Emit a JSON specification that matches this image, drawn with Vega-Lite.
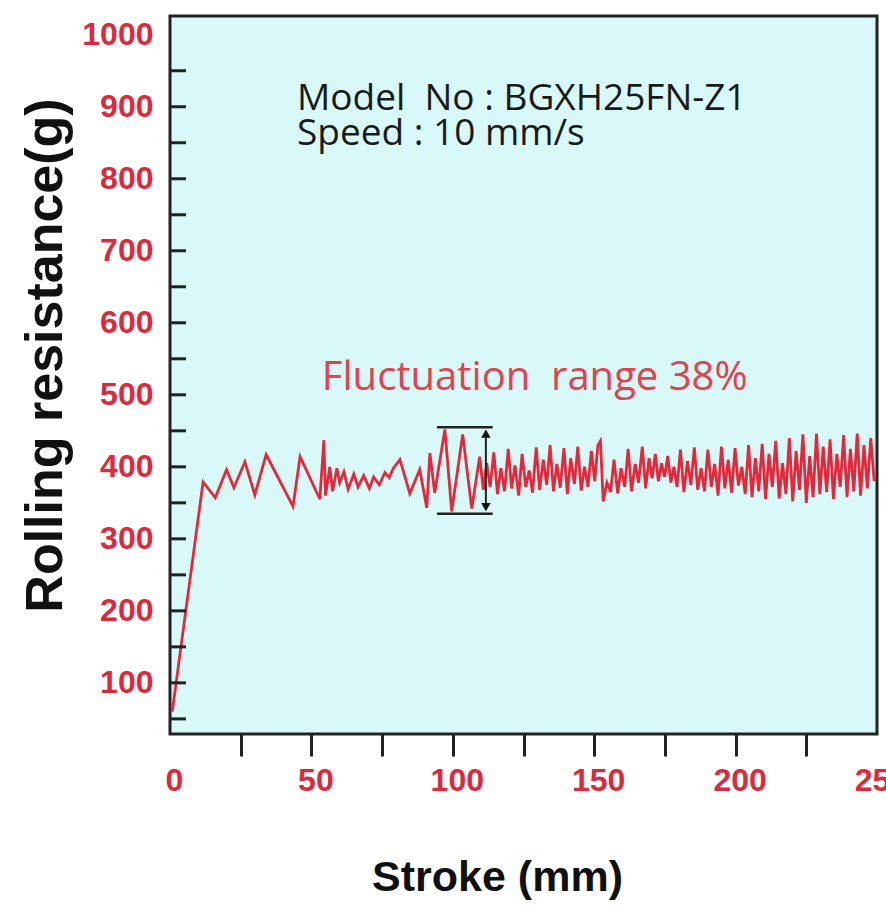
{
  "$schema": "https://vega.github.io/schema/vega-lite/v6.json",
  "width": 707,
  "height": 718,
  "autosize": "none",
  "padding": {"left": 170, "top": 16, "right": 9, "bottom": 172},
  "background": "white",
  "config": {
    "view": {"fill": "#d9f9f9", "stroke": "#222", "strokeWidth": 3}
  },
  "datasets": {
    "curve": [
      {"x": 0.8, "y": 60}, {"x": 11.7, "y": 379}, {"x": 16, "y": 357}, {"x": 20, "y": 396},
      {"x": 22.6, "y": 371}, {"x": 26.5, "y": 407}, {"x": 30, "y": 361}, {"x": 34, "y": 417},
      {"x": 43.5, "y": 345}, {"x": 46, "y": 414}, {"x": 53, "y": 355}, {"x": 54.4, "y": 437},
      {"x": 55, "y": 360}, {"x": 56.5, "y": 400}, {"x": 57.5, "y": 366}, {"x": 59, "y": 398},
      {"x": 60, "y": 378}, {"x": 61.5, "y": 393}, {"x": 63, "y": 369}, {"x": 65, "y": 390},
      {"x": 66.5, "y": 372}, {"x": 68.5, "y": 388}, {"x": 70.5, "y": 370}, {"x": 72, "y": 386},
      {"x": 74, "y": 375}, {"x": 76, "y": 392}, {"x": 77.5, "y": 385}, {"x": 79, "y": 398},
      {"x": 81.3, "y": 410}, {"x": 84.8, "y": 363}, {"x": 88.3, "y": 396}, {"x": 90.8, "y": 343},
      {"x": 91.9, "y": 419}, {"x": 93.6, "y": 364}, {"x": 97.2, "y": 452}, {"x": 99.6, "y": 338},
      {"x": 103.5, "y": 445}, {"x": 106.7, "y": 342}, {"x": 109.5, "y": 414},
      {"x": 110.8, "y": 368}, {"x": 112, "y": 405}, {"x": 113.2, "y": 372}, {"x": 114.5, "y": 420},
      {"x": 115.8, "y": 362}, {"x": 117, "y": 398}, {"x": 118.3, "y": 366}, {"x": 119.6, "y": 425},
      {"x": 120.8, "y": 370}, {"x": 122, "y": 402}, {"x": 123.3, "y": 360}, {"x": 124.5, "y": 418},
      {"x": 125.8, "y": 372}, {"x": 127, "y": 395}, {"x": 128.2, "y": 364}, {"x": 129.5, "y": 427},
      {"x": 130.7, "y": 368}, {"x": 132, "y": 410}, {"x": 133.2, "y": 375}, {"x": 134.4, "y": 430},
      {"x": 135.6, "y": 366}, {"x": 136.8, "y": 404}, {"x": 138, "y": 371}, {"x": 139.3, "y": 426},
      {"x": 140.5, "y": 362}, {"x": 141.7, "y": 412}, {"x": 143, "y": 376}, {"x": 144.2, "y": 428},
      {"x": 145.4, "y": 367}, {"x": 146.6, "y": 400}, {"x": 147.8, "y": 372}, {"x": 149, "y": 422},
      {"x": 150.2, "y": 380}, {"x": 151.3, "y": 430}, {"x": 152.2, "y": 436}, {"x": 153.2, "y": 352},
      {"x": 154.5, "y": 378}, {"x": 155.8, "y": 365}, {"x": 157, "y": 410}, {"x": 158.3, "y": 363},
      {"x": 159.5, "y": 398}, {"x": 160.8, "y": 372}, {"x": 162, "y": 425}, {"x": 163.2, "y": 366},
      {"x": 164.5, "y": 404}, {"x": 165.7, "y": 378}, {"x": 167, "y": 428}, {"x": 168.2, "y": 370},
      {"x": 169.4, "y": 412}, {"x": 170.5, "y": 384}, {"x": 171.6, "y": 418}, {"x": 172.7, "y": 380},
      {"x": 173.8, "y": 405}, {"x": 174.9, "y": 386}, {"x": 176, "y": 415}, {"x": 177.1, "y": 378},
      {"x": 178.2, "y": 400}, {"x": 179.3, "y": 372}, {"x": 180.5, "y": 424}, {"x": 181.7, "y": 365},
      {"x": 183, "y": 408}, {"x": 184.2, "y": 375}, {"x": 185.4, "y": 427}, {"x": 186.6, "y": 368},
      {"x": 187.8, "y": 398}, {"x": 189, "y": 366}, {"x": 190.2, "y": 424}, {"x": 191.4, "y": 372},
      {"x": 192.6, "y": 404}, {"x": 193.8, "y": 360}, {"x": 195, "y": 428}, {"x": 196.2, "y": 370},
      {"x": 197.4, "y": 410}, {"x": 198.6, "y": 364}, {"x": 199.8, "y": 426}, {"x": 201, "y": 374},
      {"x": 202.2, "y": 400}, {"x": 203.4, "y": 362}, {"x": 204.6, "y": 430}, {"x": 205.8, "y": 358},
      {"x": 207, "y": 412}, {"x": 208.2, "y": 366}, {"x": 209.4, "y": 432}, {"x": 210.6, "y": 355},
      {"x": 211.8, "y": 418}, {"x": 213, "y": 372}, {"x": 214.2, "y": 436}, {"x": 215.4, "y": 356},
      {"x": 216.6, "y": 405}, {"x": 217.8, "y": 362}, {"x": 219, "y": 440}, {"x": 220.2, "y": 352},
      {"x": 221.4, "y": 422}, {"x": 222.6, "y": 368}, {"x": 223.8, "y": 445}, {"x": 225, "y": 350},
      {"x": 226.2, "y": 415}, {"x": 227.4, "y": 358}, {"x": 228.6, "y": 446}, {"x": 229.8, "y": 362},
      {"x": 231, "y": 428}, {"x": 232.2, "y": 365}, {"x": 233.4, "y": 438}, {"x": 234.6, "y": 355},
      {"x": 235.8, "y": 418}, {"x": 237, "y": 372}, {"x": 238.2, "y": 444}, {"x": 239.4, "y": 358},
      {"x": 240.6, "y": 425}, {"x": 241.8, "y": 366}, {"x": 243, "y": 446}, {"x": 244.2, "y": 360},
      {"x": 245.4, "y": 430}, {"x": 246.6, "y": 370}, {"x": 247.8, "y": 440}, {"x": 249, "y": 380}
    ],
    "yticks": [
      {"y": 50}, {"y": 100}, {"y": 150}, {"y": 200}, {"y": 250}, {"y": 300}, {"y": 350},
      {"y": 400}, {"y": 450}, {"y": 500}, {"y": 550}, {"y": 600}, {"y": 650}, {"y": 700},
      {"y": 750}, {"y": 800}, {"y": 850}, {"y": 900}, {"y": 950}
    ],
    "hbars": [
      {"x": 94.4, "x2": 114.1, "y": 455},
      {"x": 94.4, "x2": 114.1, "y": 335}
    ],
    "vbar": [{"x": 111.7, "y": 340, "y2": 450}],
    "heads": [
      {"x": 111.7, "y": 446, "shape": "triangle-up"},
      {"x": 111.7, "y": 344, "shape": "triangle-down"}
    ],
    "notes": [
      {"x": 44.9, "y": 895, "label": "Model\u00a0\u00a0No : BGXH25FN-Z1", "kind": "info"},
      {"x": 44.9, "y": 847, "label": "Speed : 10 mm/s", "kind": "info"},
      {"x": 53.7, "y": 506, "label": "Fluctuation\u00a0 range 38%", "kind": "fluct"}
    ]
  },
  "layer": [
    {
      "data": {"name": "curve"},
      "mark": {"type": "line", "color": "#e2283a", "strokeWidth": 2.8, "clip": true},
      "encoding": {
        "x": {
          "field": "x", "type": "quantitative",
          "scale": {"domain": [0, 250], "nice": false, "zero": false},
          "axis": {
            "values": [0, 25, 50, 75, 100, 125, 150, 175, 200, 225, 250],
            "labelExpr": "datum.value % 50 == 0 ? datum.label : ''",
            "tickColor": {"condition": {"test": "datum.value == 0 || datum.value == 250", "value": "rgba(0,0,0,0)"}, "value": "#222"},
            "tickSize": 22, "tickWidth": 3,
            "domain": false, "grid": false,
            "labelFlush": false, "labelOverlap": false,
            "labelPadding": 9, "labelOffset": 4,
            "labelFont": "Liberation Sans", "labelFontWeight": "bold", "labelFontSize": 32, "labelColor": "#dc2a3c",
            "title": "Stroke (mm)",
            "titleFont": "Liberation Sans", "titleFontWeight": "bold", "titleFontSize": 43, "titleColor": "#111",
            "titleX": 327, "titleY": 143, "titleBaseline": "middle"
          }
        },
        "y": {
          "field": "y", "type": "quantitative",
          "scale": {"domain": [29, 1026], "nice": false, "zero": false},
          "axis": {
            "values": [100, 200, 300, 400, 500, 600, 700, 800, 900, 1000],
            "format": "d",
            "ticks": false,
            "domain": false, "grid": false,
            "labelOverlap": false, "labelFlush": false,
            "labelPadding": 17,
            "labelFont": "Liberation Sans", "labelFontWeight": "bold", "labelFontSize": 32, "labelColor": "#dc2a3c",
            "title": "Rolling resistance(g)",
            "titleFont": "Liberation Sans", "titleFontWeight": "bold", "titleFontSize": 52, "titleColor": "#111",
            "titleX": -125, "titleY": 339, "titleBaseline": "middle"
          }
        }
      }
    },
    {
      "data": {"name": "yticks"},
      "mark": {"type": "rule", "color": "#222", "strokeWidth": 3},
      "encoding": {
        "x": {"datum": 0, "type": "quantitative"},
        "x2": {"datum": 5.66},
        "y": {"field": "y", "type": "quantitative"}
      }
    },
    {
      "data": {"name": "hbars"},
      "mark": {"type": "rule", "color": "#222", "strokeWidth": 2.5},
      "encoding": {
        "x": {"field": "x", "type": "quantitative"},
        "x2": {"field": "x2"},
        "y": {"field": "y", "type": "quantitative"}
      }
    },
    {
      "data": {"name": "vbar"},
      "mark": {"type": "rule", "color": "#222", "strokeWidth": 2},
      "encoding": {
        "x": {"field": "x", "type": "quantitative"},
        "y": {"field": "y", "type": "quantitative"},
        "y2": {"field": "y2"}
      }
    },
    {
      "data": {"name": "heads"},
      "mark": {"type": "point", "filled": true, "color": "#111", "size": 90, "opacity": 1},
      "encoding": {
        "x": {"field": "x", "type": "quantitative"},
        "y": {"field": "y", "type": "quantitative"},
        "shape": {"field": "shape", "type": "nominal", "scale": null, "legend": null}
      }
    },
    {
      "data": {"name": "notes"},
      "mark": {"type": "text", "align": "left", "baseline": "alphabetic", "font": "Open Sans"},
      "encoding": {
        "x": {"field": "x", "type": "quantitative"},
        "y": {"field": "y", "type": "quantitative"},
        "text": {"field": "label"},
        "size": {
          "field": "kind", "type": "nominal",
          "scale": {"domain": ["info", "fluct"], "range": [37, 40]},
          "legend": null
        },
        "color": {
          "field": "kind", "type": "nominal",
          "scale": {"domain": ["info", "fluct"], "range": ["#1a1a1a", "#e3414c"]},
          "legend": null
        }
      }
    }
  ]
}
